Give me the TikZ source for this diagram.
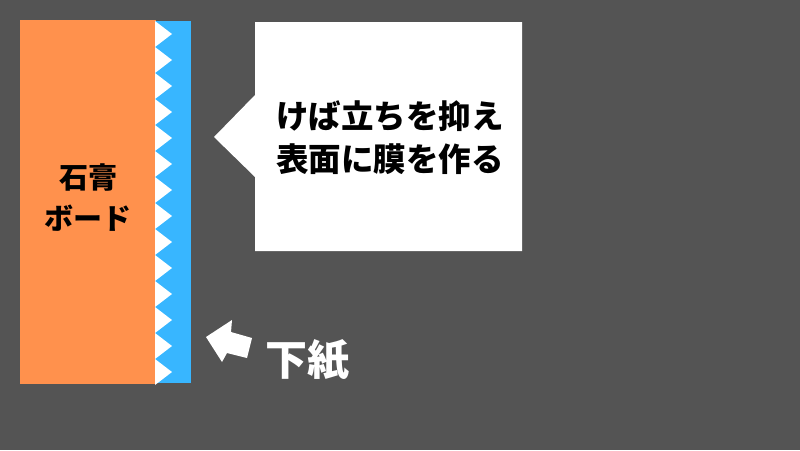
\documentclass[tikz,border=0pt]{standalone}
\usepackage{fontspec}
\newfontfamily\jp{Noto Sans CJK JP}
\definecolor{bg}{HTML}{545454}
\definecolor{orng}{HTML}{FF914D}
\definecolor{sky}{HTML}{38B6FF}
\begin{document}
\begin{tikzpicture}[x=1pt,y=-1pt,
  lbl/.style={font=\jp\bfseries, align=center, inner sep=0pt}]
\useasboundingbox (0,0) rectangle (800,450);
\fill[bg] (0,0) rectangle (800,450);
% gypsum board
\fill[orng] (20,20) rectangle (156,384);
% paper strip
\fill[sky] (155,21) rectangle (191,383);
\foreach \k in {0,...,13} {
  \fill[white] (155,{21+26*\k}) -- (172,{34+26*\k}) -- (155,{47+26*\k}) -- cycle;
}
\node[lbl, font=\jp\bfseries\fontsize{29}{41}\selectfont] (board) at (88,198) {石膏\\ボード};
% callout
\fill[white] (255,22) -- (522,22) -- (522,251) -- (255,251) -- (255,177) -- (214,137) -- (255,95) -- cycle;
\node[lbl, font=\jp\bfseries\fontsize{32.5}{43}\selectfont] (callout) at (390,138) {けば立ちを抑え\\表面に膜を作る};
% arrow
\fill[white] (206,337) -- (232,320) -- (231,332) -- (252,338) -- (247,358) -- (227,353) -- (222,362) -- cycle;
\node[lbl, text=white, font=\jp\bfseries\fontsize{42}{46}\selectfont] (shita) at (307,360) {下紙};
\end{tikzpicture}
\end{document}
